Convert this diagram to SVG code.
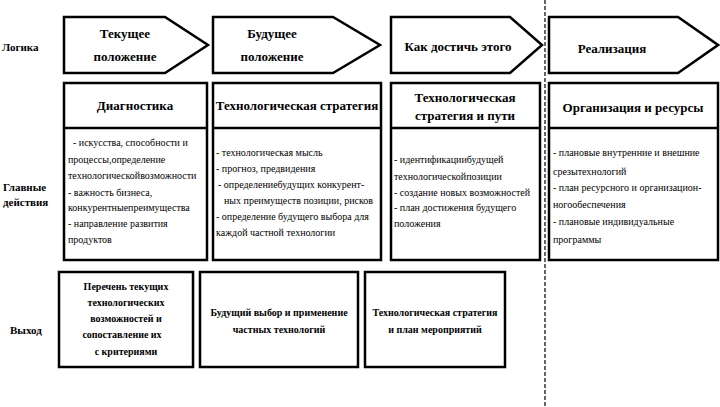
<svg xmlns="http://www.w3.org/2000/svg" width="720" height="407" viewBox="0 0 720 407">
<style>
text{font-family:"Liberation Serif","Times New Roman","DejaVu Serif",serif}
.s{fill:#fff;stroke:#000;stroke-width:2.5}
.h{font-weight:bold;font-size:13px;text-anchor:middle}
.l{font-weight:bold;font-size:11px}
.b{font-size:10px}
.o{font-weight:bold;font-size:10px;text-anchor:middle}
</style>
<rect width="720" height="407" fill="#fff"/>
<g id="labels">
<text class="l" x="2" y="51">Логика</text>
<text class="l" x="3" y="191">Главные</text>
<text class="l" x="3" y="206">действия</text>
<text class="l" x="10" y="334">Выход</text>
</g>
<g id="connectors"><line x1="545" y1="0" x2="545" y2="407" stroke="#000" stroke-width="1.2" stroke-dasharray="4,2"/></g>
<g id="arrow1"><path class="s" d="M64 17H165L208 45L165 73H64Z"/><text class="h" x="125" y="38">Текущее</text><text class="h" x="125" y="61">положение</text></g>
<g id="arrow2"><path class="s" d="M213 17H333L380 45L333 73H213Z"/><text class="h" x="272" y="38">Будущее</text><text class="h" x="272" y="61">положение</text></g>
<g id="arrow3"><path class="s" d="M391 17H510L542 45L510 73H391Z"/><text class="h" x="458" y="51">Как достичь этого</text></g>
<g id="arrow4"><path class="s" d="M549 17H678L718 45L678 73H549Z"/><text class="h" x="612" y="53">Реализация</text></g>
<g id="box1"><rect class="s" x="64" y="83" width="143" height="177"/><line x1="64" y1="128" x2="207" y2="128" stroke="#000" stroke-width="2.5"/>
<text class="h" x="135" y="110" font-size="12">Диагностика</text>
<text class="b" x="73" y="146">- искусства, способности и</text>
<text class="b" x="68" y="163">процессы,определение</text>
<text class="b" x="68" y="179">технологическойвозможности</text>
<text class="b" x="68" y="196">- важность бизнеса,</text>
<text class="b" x="68" y="211">конкурентныепреимущества</text>
<text class="b" x="68" y="227">- направление развития</text>
<text class="b" x="68" y="243">продуктов</text></g>
<g id="box2"><rect class="s" x="213" y="83" width="168" height="177"/><line x1="213" y1="128" x2="381" y2="128" stroke="#000" stroke-width="2.5"/>
<text class="h" x="297" y="110" font-size="12">Технологическая стратегия</text>
<text class="b" x="216" y="156">- технологическая мысль</text>
<text class="b" x="216" y="172">- прогноз, предвидения</text>
<text class="b" x="218" y="188">- определениебудущих конкурент-</text>
<text class="b" x="224" y="204">ных преимуществ позиции, рисков</text>
<text class="b" x="216" y="220">- определение будущего выбора для</text>
<text class="b" x="216" y="236">каждой частной технологии</text></g>
<g id="box3"><rect class="s" x="391" y="83" width="149" height="177"/><line x1="391" y1="128" x2="540" y2="128" stroke="#000" stroke-width="2.5"/>
<text class="h" x="465" y="102" font-size="12">Технологическая</text>
<text class="h" x="465" y="120" font-size="12">стратегия и пути</text>
<text class="b" x="394" y="163">- идентификациибудущей</text>
<text class="b" x="394" y="180">технологическойпозиции</text>
<text class="b" x="394" y="196">- создание новых возможностей</text>
<text class="b" x="394" y="211">- план достижения будущего</text>
<text class="b" x="394" y="227">положения</text></g>
<g id="box4"><rect class="s" x="549" y="83" width="169" height="177"/><line x1="549" y1="128" x2="718" y2="128" stroke="#000" stroke-width="2.5"/>
<text class="h" x="633" y="112" font-size="12">Организация и ресурсы</text>
<text class="b" x="553" y="156">- плановые внутренние и внешние</text>
<text class="b" x="553" y="175">срезытехнологий</text>
<text class="b" x="553" y="191">- план ресурсного и организацион-</text>
<text class="b" x="553" y="208">ногообеспечения</text>
<text class="b" x="553" y="225">- плановые индивидуальные</text>
<text class="b" x="553" y="243">программы</text></g>
<g id="out1"><rect class="s" x="59" y="272" width="134" height="95"/>
<text class="o" x="126" y="290">Перечень текущих</text>
<text class="o" x="126" y="306">технологических</text>
<text class="o" x="126" y="322">возможностей и</text>
<text class="o" x="122" y="338">сопоставление их</text>
<text class="o" x="126" y="355">с критериями</text></g>
<g id="out2"><rect class="s" x="200" y="272" width="158" height="95"/>
<text class="o" x="279" y="316">Будущий выбор и применение</text>
<text class="o" x="279" y="333">частных технологий</text></g>
<g id="out3"><rect class="s" x="365" y="272" width="140" height="95"/>
<text class="o" x="435" y="316">Технологическая стратегия</text>
<text class="o" x="435" y="333">и план мероприятий</text></g>
</svg>
